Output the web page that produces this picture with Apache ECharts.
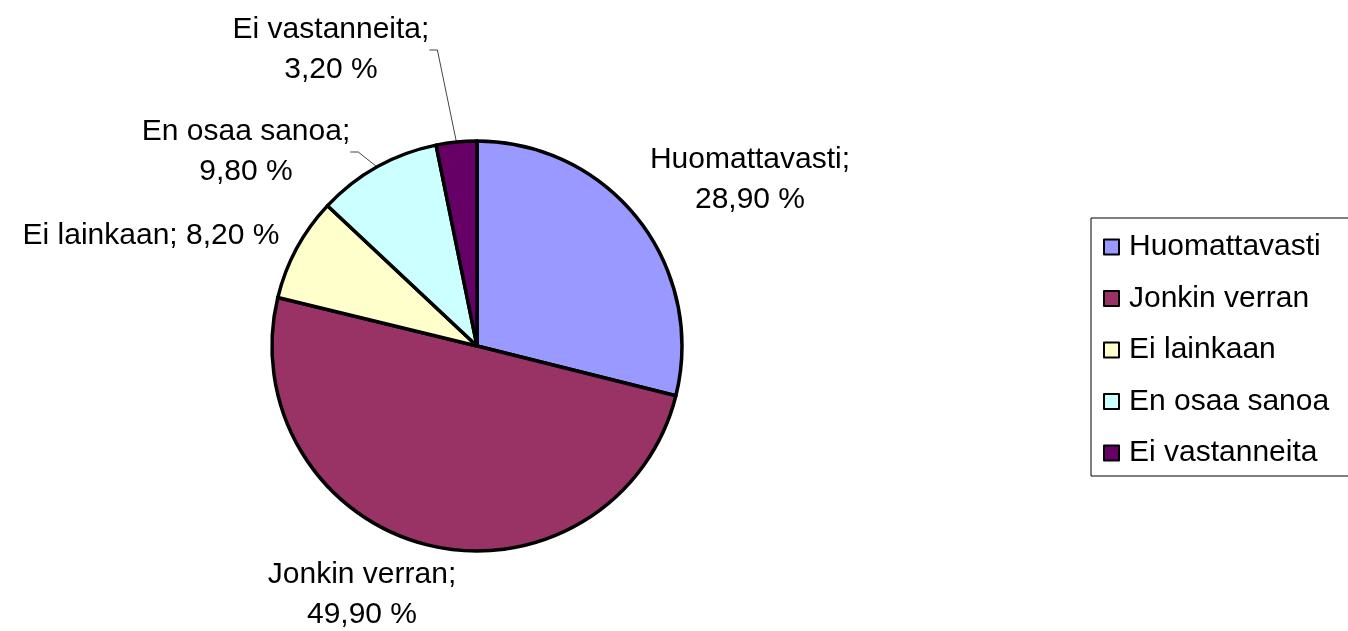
<!DOCTYPE html>
<html>
<head>
<meta charset="utf-8">
<script src="https://cdn.jsdelivr.net/npm/echarts@6/dist/echarts.min.js"></script>
<style>
  html, body { margin: 0; padding: 0; background: #fff; }
  #myChart { width: 1348px; height: 631px; }
</style>
</head>
<body>
<div id="myChart"></div>
<script>
const categories = ['Huomattavasti', 'Jonkin verran', 'Ei lainkaan', 'En osaa sanoa', 'Ei vastanneita'];
const values = [28.9, 49.9, 8.2, 9.8, 3.2];
const colors = ['#9999FF', '#993366', '#FFFFCC', '#CCFFFF', '#660066'];
// label spots (text centre) and whether a leader line is drawn
const labelSpots = [[750, 180], [362, 595], [151, 236], [246, 152], [331, 50]];
const showLine = [false, false, false, true, true];

const fontFamily = '"Liberation Sans", Arial, sans-serif';

function fmt(v) {
    return v.toFixed(2).replace('.', ',') + ' %';
}

let chartDom = document.getElementById('myChart');
let myChart = echarts.init(chartDom);

let data = categories.map((name, i) => ({
    name: name,
    value: values[i],
    itemStyle: { color: colors[i] },
    labelLine: { show: showLine[i] }
}));

let option = {
    animation: false,
    legend: {
        orient: 'vertical',
        left: 1091,
        top: 218,
        padding: [14, 30, 8, 12],
        borderColor: '#000',
        borderWidth: 1,
        itemWidth: 15,
        itemHeight: 15,
        itemGap: 21.5,
        itemStyle: { borderColor: '#000', borderWidth: 2 },
        icon: 'rect',
        textStyle: { fontSize: 30, fontFamily: fontFamily, color: '#000', padding: [0, 0, 0, 5] },
        data: categories
    },
    series: [{
        type: 'pie',
        center: [477, 346],
        radius: 205,
        startAngle: 90,
        clockwise: true,
        itemStyle: { borderColor: '#000', borderWidth: 3.5 },
        label: {
            show: true,
            position: 'outside',
            fontSize: 30,
            lineHeight: 40,
            fontFamily: fontFamily,
            color: '#000',
            align: 'center',
            formatter: p => p.dataIndex === 2
                ? p.name + '; ' + fmt(p.value)
                : p.name + ';\n' + fmt(p.value)
        },
        labelLine: { lineStyle: { color: '#444', width: 1 }, length: 8, length2: 8 },
        labelLayout: function (params) {
            const s = labelSpots[params.dataIndex];
            return { x: s[0], y: s[1], align: 'center', verticalAlign: 'middle' };
        },
        emphasis: { disabled: true },
        data: data
    }]
};

option && myChart.setOption(option);
</script>
</body>
</html>
